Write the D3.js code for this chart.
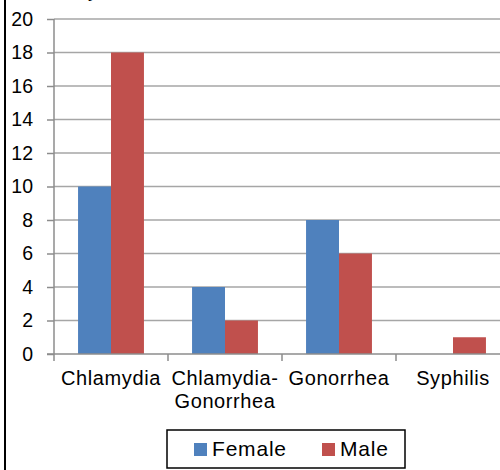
<!DOCTYPE html>
<html>
    <head>
        <style>
            body { margin: 0; background: #fff; }
            text { font-family: "Liberation Sans", Arial, sans-serif; fill: #000; }
        </style>
        <script src="https://cdnjs.cloudflare.com/ajax/libs/d3/7.0.4/d3.min.js"></script>
    </head>
    <body>
        <div id="chart"></div>
        <script>
            const categories = [["Chlamydia"], ["Chlamydia-", "Gonorrhea"], ["Gonorrhea"], ["Syphilis"]];
            const seriesNames = ["Female", "Male"];
            const female = [10, 4, 8, 0];
            const male = [18, 2, 6, 1];
            const yTicks = [0, 2, 4, 6, 8, 10, 12, 14, 16, 18, 20];
            const colors = ["#4f81bd", "#c0504d"];

            const w = 500, h = 470;
            const svg = d3.select("#chart").append("svg")
                .attr("width", w)
                .attr("height", h);

            const keys = categories.map(c => c.join(" "));
            const values = [female, male];

            const x0 = d3.scaleBand().domain(keys).range([54, 510]).padding(0);
            const x1 = d3.scaleBand().domain(seriesNames).range([0, x0.bandwidth()]).paddingOuter(0.73).paddingInner(0);
            const y = d3.scaleLinear().domain([0, 20]).range([354, 19]);

            // left frame edge
            svg.append("line")
                .attr("x1", 5).attr("x2", 5).attr("y1", 0).attr("y2", h)
                .attr("stroke", "#000").attr("stroke-width", 2);

            // clipped title remnant
            svg.append("text")
                .attr("x", 88).attr("y", -3)
                .attr("font-size", 19)
                .text("y,");

            // gridlines
            svg.append("g")
                .selectAll("line")
                .data(yTicks.filter(d => d > 0))
                .enter().append("line")
                .attr("x1", 54).attr("x2", w)
                .attr("y1", d => y(d)).attr("y2", d => y(d))
                .attr("stroke", "#a6a6a6").attr("stroke-width", 1.5);

            // bars
            seriesNames.forEach((s, si) => {
                svg.append("g")
                    .selectAll("rect")
                    .data(values[si])
                    .enter().append("rect")
                    .attr("x", (d, i) => x0(keys[i]) + x1(s))
                    .attr("y", d => y(d))
                    .attr("width", x1.bandwidth())
                    .attr("height", d => y(0) - y(d))
                    .attr("fill", colors[si]);
            });

            // y axis
            const yAxis = d3.axisLeft(y).tickValues(yTicks).tickSize(7).tickPadding(10);
            const gy = svg.append("g").attr("transform", "translate(54,0)").call(yAxis);
            gy.select(".domain").attr("stroke", "#8c8c8c").attr("stroke-width", 1.5).attr("d", "M0," + y(20) + "V" + y(0));
            gy.selectAll(".tick line").attr("stroke", "#8c8c8c").attr("stroke-width", 1.5);
            gy.selectAll("text").attr("font-size", 19.5).attr("font-family", "Liberation Sans, Arial, sans-serif")
                .attr("fill", "#000").attr("x", -21).attr("text-anchor", "end");

            // x axis
            const xAxis = d3.axisBottom(x0).tickSize(0).tickFormat("");
            const gx = svg.append("g").attr("transform", "translate(0," + y(0) + ")").call(xAxis);
            gx.select(".domain").attr("stroke", "#8c8c8c").attr("stroke-width", 1.5).attr("d", "M47,0H" + w);
            gx.selectAll(".sep")
                .data(keys)
                .enter().append("line")
                .attr("x1", d => x0(d)).attr("x2", d => x0(d))
                .attr("y1", 0).attr("y2", 7)
                .attr("stroke", "#8c8c8c").attr("stroke-width", 1.5);

            const labels = svg.append("g")
                .selectAll("text")
                .data(categories)
                .enter().append("text")
                .attr("text-anchor", "middle")
                .attr("font-size", 20)
                .attr("letter-spacing", 0.6)
                .attr("transform", (d, i) => "translate(" + (x0(keys[i]) + x0.bandwidth() / 2) + ",385)");
            labels.selectAll("tspan")
                .data(d => d)
                .enter().append("tspan")
                .attr("x", 0)
                .attr("dy", (d, i) => i === 0 ? 0 : 23)
                .text(d => d);

            // legend
            const legend = svg.append("g");
            legend.append("rect")
                .attr("x", 167).attr("y", 430).attr("width", 238).attr("height", 38)
                .attr("fill", "#fff").attr("stroke", "#000").attr("stroke-width", 1.5);
            const legendX = [194, 322];
            seriesNames.forEach((s, i) => {
                legend.append("rect")
                    .attr("x", legendX[i]).attr("y", 443).attr("width", 13).attr("height", 13)
                    .attr("fill", colors[i]);
                legend.append("text")
                    .attr("x", legendX[i] + 18).attr("y", 456)
                    .attr("font-size", 21)
                    .attr("letter-spacing", 0.8)
                    .text(s);
            });
        </script>
    </body>
</html>
